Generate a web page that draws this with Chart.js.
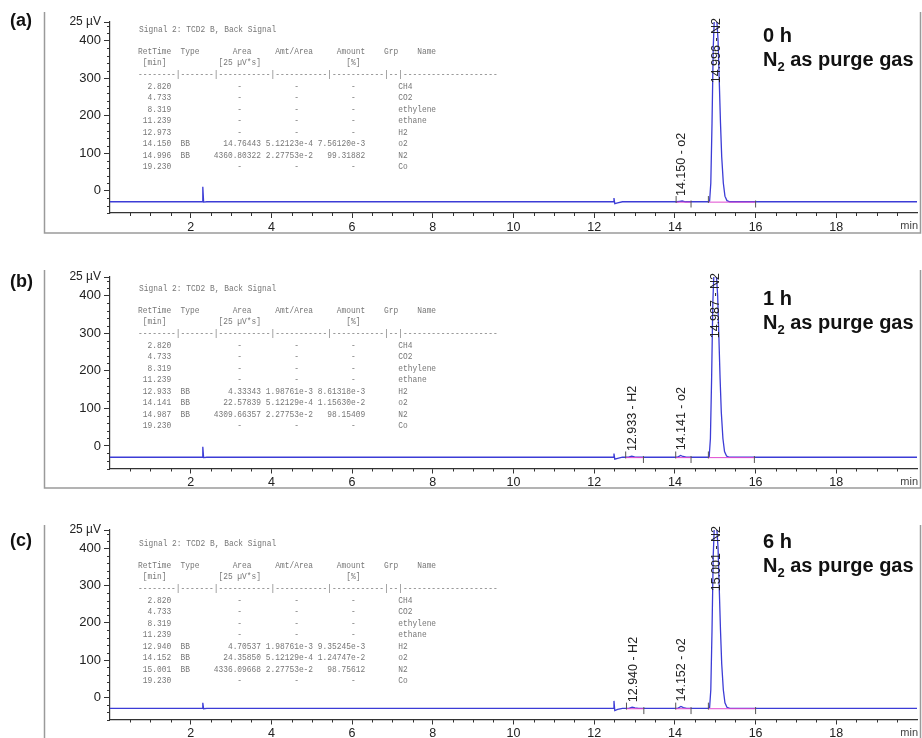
<!DOCTYPE html>
<html>
<head>
<meta charset="utf-8">
<script src="https://cdn.jsdelivr.net/npm/chart.js@4.4.1/dist/chart.umd.min.js"></script>
<style>
  body { margin: 0; background: #fff; width: 922px; height: 738px; overflow: hidden; position: relative; }
  canvas { position: absolute; left: 0; top: 0; }
</style>
</head>
<body>
<canvas id="panel-a" width="922" height="738"></canvas>
<canvas id="panel-b" width="922" height="738"></canvas>
<canvas id="panel-c" width="922" height="738"></canvas>
<script>
// chromatograms - TCD2 B back signal, three runs

const xTicks = [2, 4, 6, 8, 10, 12, 14, 16, 18];
const yTicks = [0, 100, 200, 300, 400];
const yUnitLabel = '25 µV';
const xUnitLabel = 'min';
const tableTitle = 'Signal 2: TCD2 B, Back Signal';

// [time (min), signal]
const traceA = [
  [0, -30], [2.27, -30], [2.29, -30], [2.30, 10], [2.32, -31], [2.40, -30],
  [12.47, -30], [12.49, -20], [12.51, -35], [12.58, -33], [12.70, -30],
  [14.05, -30], [14.12, -29], [14.18, -28], [14.26, -30],
  [14.82, -30], [14.86, -28], [14.89, 20], [14.92, 180], [14.95, 380], [14.98, 470], [15.03, 470],
  [15.07, 400], [15.10, 290], [15.13, 180], [15.16, 90], [15.20, 20], [15.24, -15], [15.29, -27], [15.36, -30],
  [20, -30]
];
const traceB = [
  [0, -30], [2.27, -30], [2.29, -30], [2.30, -2], [2.32, -31], [2.40, -30],
  [12.47, -30], [12.49, -20], [12.51, -35], [12.58, -33], [12.70, -30],
  [12.85, -30], [12.93, -27], [13.00, -29], [13.10, -30],
  [14.06, -30], [14.14, -25], [14.20, -28], [14.28, -30],
  [14.81, -30], [14.85, -28], [14.88, 20], [14.91, 180], [14.94, 380], [14.97, 470], [15.02, 470],
  [15.06, 400], [15.09, 290], [15.12, 180], [15.15, 90], [15.19, 20], [15.23, -15], [15.28, -27], [15.35, -30],
  [20, -30]
];
const traceC = [
  [0, -30], [2.27, -30], [2.29, -30], [2.30, -15], [2.32, -31], [2.40, -30],
  [12.47, -30], [12.49, -10], [12.51, -36], [12.58, -33], [12.70, -30],
  [12.86, -30], [12.94, -27], [13.01, -29], [13.10, -30],
  [14.07, -30], [14.15, -25], [14.21, -28], [14.29, -30],
  [14.82, -30], [14.86, -28], [14.89, 20], [14.92, 180], [14.95, 380], [14.98, 470], [15.03, 470],
  [15.07, 400], [15.10, 290], [15.13, 180], [15.16, 90], [15.20, 20], [15.24, -15], [15.29, -27], [15.36, -30],
  [20, -30]
];

// integration events: [start, end] of each peak baseline
const eventsA = [[14.03, 14.40], [14.83, 16.00]];
const eventsB = [[12.78, 13.22], [14.02, 14.40], [14.83, 15.97]];
const eventsC = [[12.80, 13.23], [14.02, 14.40], [14.83, 16.00]];

// peak annotations: [retention time, name]
const peaksA = [['14.150', 'o2'], ['14.996', 'N2']];
const peaksB = [['12.933', 'H2'], ['14.141', 'o2'], ['14.987', 'N2']];
const peaksC = [['12.940', 'H2'], ['14.152', 'o2'], ['15.001', 'N2']];

// report table rows: RetTime, Type, Area, Amt/Area, Amount, Name
const tableA = [
  ['2.820', '', '-', '-', '-', 'CH4'],
  ['4.733', '', '-', '-', '-', 'CO2'],
  ['8.319', '', '-', '-', '-', 'ethylene'],
  ['11.239', '', '-', '-', '-', 'ethane'],
  ['12.973', '', '-', '-', '-', 'H2'],
  ['14.150', 'BB', '14.76443', '5.12123e-4', '7.56120e-3', 'o2'],
  ['14.996', 'BB', '4360.80322', '2.27753e-2', '99.31882', 'N2'],
  ['19.230', '', '-', '-', '-', 'Co']
];
const tableB = [
  ['2.820', '', '-', '-', '-', 'CH4'],
  ['4.733', '', '-', '-', '-', 'CO2'],
  ['8.319', '', '-', '-', '-', 'ethylene'],
  ['11.239', '', '-', '-', '-', 'ethane'],
  ['12.933', 'BB', '4.33343', '1.98761e-3', '8.61318e-3', 'H2'],
  ['14.141', 'BB', '22.57839', '5.12129e-4', '1.15630e-2', 'o2'],
  ['14.987', 'BB', '4309.66357', '2.27753e-2', '98.15409', 'N2'],
  ['19.230', '', '-', '-', '-', 'Co']
];
const tableC = [
  ['2.820', '', '-', '-', '-', 'CH4'],
  ['4.733', '', '-', '-', '-', 'CO2'],
  ['8.319', '', '-', '-', '-', 'ethylene'],
  ['11.239', '', '-', '-', '-', 'ethane'],
  ['12.940', 'BB', '4.70537', '1.98761e-3', '9.35245e-3', 'H2'],
  ['14.152', 'BB', '24.35850', '5.12129e-4', '1.24747e-2', 'o2'],
  ['15.001', 'BB', '4336.09668', '2.27753e-2', '98.75612', 'N2'],
  ['19.230', '', '-', '-', '-', 'Co']
];

const panelTags = ['(a)', '(b)', '(c)'];
const runTimes = ['0 h', '1 h', '6 h'];

// page layout per panel (pixels)
const layouts = [
  { top: 22,  bottom: 213,   frameTop: 12,  frameBottom: 233, tagY: 21,  tableY: 29,  timeY: 42 },
  { top: 277, bottom: 468.5, frameTop: 270, frameBottom: 488, tagY: 282, tableY: 288, timeY: 305 },
  { top: 530, bottom: 719.5, frameTop: 525, frameBottom: 760, tagY: 541, tableY: 543, timeY: 548 }
];

const SANS = '"Liberation Sans", Arial, sans-serif';
const MONO = '"Liberation Mono", "Courier New", monospace';
const TRACE = '#3c3cd6';
const BASE = '#e04ad0';

function putAt(chars, col, s) {
  for (let i = 0; i < s.length; i++) chars[col + i] = s[i];
}
function tableLine(r) {
  const c = new Array(80).fill(' ');
  putAt(c, 7 - r[0].length, r[0]);
  if (r[1]) putAt(c, 9, r[1]);
  if (r[2] === '-') putAt(c, 21, '-'); else putAt(c, 26 - r[2].length, r[2]);
  if (r[3] === '-') putAt(c, 33, '-'); else putAt(c, 27, r[3]);
  if (r[4] === '-') putAt(c, 45, '-'); else putAt(c, 48 - r[4].length, r[4]);
  putAt(c, 55, r[5]);
  return c.join('').trimEnd();
}
function headerLines() {
  const h = new Array(80).fill(' ');
  putAt(h, 0, 'RetTime'); putAt(h, 9, 'Type'); putAt(h, 20, 'Area'); putAt(h, 29, 'Amt/Area');
  putAt(h, 42, 'Amount'); putAt(h, 52, 'Grp'); putAt(h, 59, 'Name');
  const u = new Array(80).fill(' ');
  putAt(u, 1, '[min]'); putAt(u, 17, '[25 µV*s]'); putAt(u, 44, '[%]');
  const d = '--------|-------|-----------|-----------|-----------|--|--------------------';
  return [h.join('').trimEnd(), u.join('').trimEnd(), d];
}
// monospace report text, squeezed horizontally like the scanned printout
function monoText(ctx, s, x, y) {
  ctx.save();
  ctx.translate(x, y);
  ctx.scale(0.83, 1);
  ctx.fillText(s, 0, 0);
  ctx.restore();
}

const decorations = {
  id: 'decorations',
  afterDraw(chart, args, o) {
    const ctx = chart.ctx;
    const xs = chart.scales.x, ys = chart.scales.y, area = chart.chartArea;
    ctx.save();

    // panel frame
    ctx.strokeStyle = '#9a9a9a';
    ctx.lineWidth = 1.5;
    ctx.beginPath();
    ctx.moveTo(44.5, o.lay.frameTop); ctx.lineTo(44.5, o.lay.frameBottom); ctx.lineTo(920.5, o.lay.frameBottom);
    ctx.lineTo(920.5, o.lay.frameTop);
    ctx.stroke();

    // minor ticks
    ctx.strokeStyle = '#333';
    ctx.lineWidth = 1;
    ctx.beginPath();
    for (let v = 0.5; v < 20; v += 0.5) {
      if (v % 2 === 0) continue;
      const px = Math.round(xs.getPixelForValue(v)) + 0.5;
      ctx.moveTo(px, area.bottom); ctx.lineTo(px, area.bottom + 3);
    }
    for (let v = -60; v < 450; v += 20) {
      if (v >= 0 && v <= 400 && v % 100 === 0) continue;
      const py = Math.round(ys.getPixelForValue(v)) + 0.5;
      ctx.moveTo(area.left - 3, py); ctx.lineTo(area.left, py);
    }
    ctx.stroke();

    // x unit
    ctx.fillStyle = '#444';
    ctx.font = '11px ' + SANS;
    ctx.textAlign = 'right';
    ctx.textBaseline = 'middle';
    ctx.fillText(xUnitLabel, 918, area.bottom + 13);

    // panel tag
    ctx.fillStyle = '#111';
    ctx.font = 'bold 18px ' + SANS;
    ctx.textAlign = 'left';
    ctx.fillText(o.tag, 10, o.lay.tagY);

    // report table
    ctx.fillStyle = '#777';
    ctx.font = '9.5px ' + MONO;
    const hl = headerLines();
    monoText(ctx, tableTitle, 139, o.lay.tableY);
    monoText(ctx, hl[0], 138, o.lay.tableY + 22);
    monoText(ctx, hl[1], 138, o.lay.tableY + 33);
    monoText(ctx, hl[2], 138, o.lay.tableY + 45);
    o.table.forEach((r, i) => monoText(ctx, tableLine(r), 138, o.lay.tableY + 57 + i * 11.5));

    // run time + purge gas
    ctx.fillStyle = '#111';
    ctx.textBaseline = 'alphabetic';
    ctx.font = 'bold 20px ' + SANS;
    ctx.fillText(o.time, 763, o.lay.timeY);
    const y2 = o.lay.timeY + 24;
    ctx.fillText('N', 763, y2);
    let x = 763 + ctx.measureText('N').width;
    ctx.font = 'bold 13px ' + SANS;
    ctx.fillText('2', x, y2 + 5);
    x += ctx.measureText('2').width;
    ctx.font = 'bold 20px ' + SANS;
    ctx.fillText(' as purge gas', x, y2);

    // peak labels
    ctx.fillStyle = '#222';
    ctx.font = '12.5px ' + SANS;
    o.peaks.forEach(([rt, name]) => {
      const t = parseFloat(rt);
      let ymax = -Infinity;
      o.trace.forEach(([px, py]) => { if (Math.abs(px - t) < 0.12) ymax = Math.max(ymax, py); });
      const txt = rt + ' - ' + name;
      const w = ctx.measureText(txt).width;
      let start = ys.getPixelForValue(ymax) - 5;
      if (start - w < area.top - 4) start = area.top - 4 + w;
      ctx.save();
      ctx.translate(xs.getPixelForValue(t) + 1, start);
      ctx.rotate(-Math.PI / 2);
      ctx.textAlign = 'left';
      ctx.textBaseline = 'middle';
      ctx.fillText(txt, 0, 0);
      ctx.restore();
    });

    ctx.restore();
  }
};

function drawPanel(id, idx, trace, events, peaks, table) {
  const lay = layouts[idx];
  const pts = trace.map(([x, y]) => ({ x, y }));
  const datasets = [];
  // event markers: start ticks up, end ticks down
  const marks = [];
  events.forEach(([s, e]) => { marks.push({ x: s, y: -24 }); marks.push({ x: e, y: -36 }); });
  datasets.push({
    data: marks, showLine: false, pointStyle: 'line', rotation: 90, pointRadius: 3.5,
    borderColor: '#555', borderWidth: 1, backgroundColor: '#555'
  });
  events.forEach(([s, e]) => {
    datasets.push({
      data: [{ x: s, y: -31 }, { x: e, y: -31 }], showLine: true, pointRadius: 0,
      borderColor: BASE, borderWidth: 1
    });
  });
  datasets.push({ data: pts, showLine: true, pointRadius: 0, borderColor: TRACE, borderWidth: 1.3, tension: 0 });

  new Chart(document.getElementById(id).getContext('2d'), {
    type: 'scatter',
    data: { datasets },
    options: {
      responsive: false,
      animation: false,
      events: [],
      layout: { padding: { top: lay.top, bottom: 738 - lay.bottom - 20, left: 0, right: 2 } },
      plugins: {
        legend: { display: false },
        tooltip: { enabled: false },
        decorations: { lay, tag: panelTags[idx], time: runTimes[idx], table, peaks, trace }
      },
      scales: {
        x: {
          type: 'linear', min: 0, max: 20,
          afterBuildTicks: s => { s.ticks = xTicks.map(v => ({ value: v })); },
          afterFit: s => { s.height = 20; },
          grid: { drawOnChartArea: false, tickLength: 5, color: '#333' },
          border: { color: '#333', width: 1.2 },
          ticks: { autoSkip: false, maxRotation: 0, padding: 2, color: '#222', font: { family: SANS, size: 12.5 } }
        },
        y: {
          type: 'linear', min: -60, max: 450,
          afterBuildTicks: s => { s.ticks = yTicks.concat([450]).map(v => ({ value: v })); },
          afterFit: s => { s.width = 110; },
          grid: { drawOnChartArea: false, tickLength: 6, color: '#333' },
          border: { color: '#333', width: 1.2 },
          ticks: {
            autoSkip: false, padding: 3, color: '#222',
            callback: v => (v === 450 ? yUnitLabel : v),
            font: c => ({ family: SANS, size: c.tick && c.tick.value === 450 ? 12 : 13 })
          }
        }
      }
    },
    plugins: [decorations]
  });
}

drawPanel('panel-a', 0, traceA, eventsA, peaksA, tableA);
drawPanel('panel-b', 1, traceB, eventsB, peaksB, tableB);
drawPanel('panel-c', 2, traceC, eventsC, peaksC, tableC);
</script>
</body>
</html>
